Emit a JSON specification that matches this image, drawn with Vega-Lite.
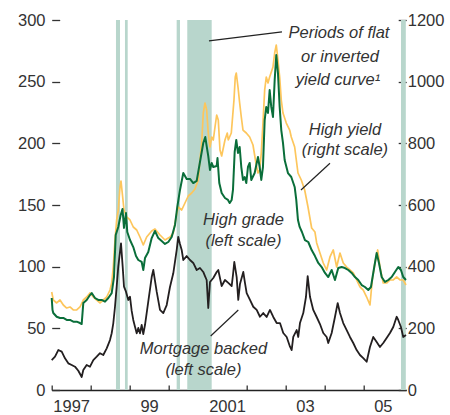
{
  "$schema": "https://vega.github.io/schema/vega-lite/v6.json",
  "width": 354.5,
  "height": 370,
  "autosize": {"type": "none"},
  "padding": {"left": 51.7, "top": 20, "right": 43.8, "bottom": 25},
  "background": "white",
  "config": {
    "view": {"stroke": null},
    "font": "Liberation Sans",
    "axis": {"grid": false, "domain": false, "labelFont": "Liberation Sans", "labelFontSize": 16.5, "labelColor": "#333333", "tickColor": "#333333", "tickWidth": 1.3, "title": null}
  },
  "datasets": {
    "shade": [
      {"t": 1998.650, "end": 1998.753},
      {"t": 1998.881, "end": 1998.951},
      {"t": 2000.208, "end": 2000.293},
      {"t": 2000.480, "end": 2001.107},
      {"t": 2005.966, "end": 2006.090}
    ],
    "mbs": [
      {"t":1997.000,"v":24.3},{"t":1997.085,"v":27.0},{"t":1997.169,"v":32.4},{"t":1997.257,"v":31.1},{"t":1997.341,"v":25.7},{"t":1997.426,"v":21.6},{"t":1997.513,"v":20.3},{"t":1997.598,"v":18.9},{"t":1997.683,"v":15.6},{"t":1997.770,"v":10.5},{"t":1997.811,"v":16.2},{"t":1997.898,"v":20.3},{"t":1997.983,"v":18.9},{"t":1998.068,"v":24.3},{"t":1998.155,"v":27.0},{"t":1998.240,"v":29.8},{"t":1998.324,"v":28.4},{"t":1998.412,"v":33.8},{"t":1998.496,"v":40.5},{"t":1998.540,"v":46.0},{"t":1998.581,"v":54.1},{"t":1998.625,"v":67.5},{"t":1998.668,"v":83.8},{"t":1998.709,"v":100.0},{"t":1998.753,"v":112.1},{"t":1998.779,"v":118.9},{"t":1998.822,"v":100.0},{"t":1998.856,"v":83.8},{"t":1998.907,"v":79.7},{"t":1998.966,"v":73.0},{"t":1999.010,"v":75.6},{"t":1999.053,"v":64.1},{"t":1999.094,"v":56.8},{"t":1999.138,"v":51.3},{"t":1999.182,"v":46.0},{"t":1999.223,"v":50.3},{"t":1999.266,"v":46.0},{"t":1999.310,"v":52.7},{"t":1999.351,"v":45.4},{"t":1999.395,"v":52.7},{"t":1999.479,"v":71.6},{"t":1999.567,"v":91.6},{"t":1999.608,"v":97.3},{"t":1999.695,"v":79.7},{"t":1999.780,"v":64.9},{"t":1999.864,"v":62.4},{"t":1999.952,"v":68.9},{"t":2000.036,"v":83.5},{"t":2000.121,"v":94.6},{"t":2000.208,"v":113.5},{"t":2000.249,"v":124.1},{"t":2000.293,"v":118.4},{"t":2000.337,"v":113.5},{"t":2000.378,"v":105.4},{"t":2000.465,"v":108.6},{"t":2000.550,"v":105.4},{"t":2000.634,"v":103.0},{"t":2000.722,"v":97.3},{"t":2000.806,"v":98.9},{"t":2000.891,"v":95.7},{"t":2000.935,"v":92.4},{"t":2000.978,"v":89.2},{"t":2001.019,"v":66.5},{"t":2001.063,"v":87.6},{"t":2001.148,"v":90.8},{"t":2001.235,"v":95.7},{"t":2001.276,"v":97.3},{"t":2001.363,"v":84.3},{"t":2001.448,"v":89.2},{"t":2001.533,"v":86.8},{"t":2001.620,"v":84.3},{"t":2001.653,"v":93.2},{"t":2001.687,"v":103.8},{"t":2001.748,"v":91.6},{"t":2001.789,"v":73.0},{"t":2001.833,"v":85.9},{"t":2001.918,"v":95.7},{"t":2001.961,"v":86.8},{"t":2002.005,"v":78.6},{"t":2002.090,"v":73.0},{"t":2002.174,"v":67.5},{"t":2002.262,"v":64.9},{"t":2002.346,"v":59.4},{"t":2002.431,"v":62.4},{"t":2002.518,"v":59.2},{"t":2002.603,"v":64.9},{"t":2002.688,"v":59.2},{"t":2002.775,"v":54.3},{"t":2002.860,"v":54.3},{"t":2002.944,"v":46.2},{"t":2003.032,"v":43.0},{"t":2003.117,"v":35.1},{"t":2003.160,"v":32.4},{"t":2003.201,"v":43.0},{"t":2003.288,"v":48.6},{"t":2003.329,"v":43.0},{"t":2003.373,"v":54.3},{"t":2003.458,"v":62.4},{"t":2003.527,"v":75.4},{"t":2003.571,"v":92.4},{"t":2003.630,"v":75.6},{"t":2003.714,"v":64.9},{"t":2003.802,"v":59.2},{"t":2003.886,"v":53.5},{"t":2003.971,"v":46.2},{"t":2004.058,"v":43.0},{"t":2004.099,"v":38.1},{"t":2004.187,"v":46.2},{"t":2004.271,"v":59.2},{"t":2004.341,"v":70.5},{"t":2004.400,"v":62.4},{"t":2004.484,"v":54.3},{"t":2004.572,"v":48.6},{"t":2004.656,"v":43.0},{"t":2004.741,"v":38.1},{"t":2004.828,"v":32.4},{"t":2004.913,"v":28.4},{"t":2004.998,"v":25.9},{"t":2005.085,"v":22.9},{"t":2005.170,"v":34.9},{"t":2005.254,"v":43.0},{"t":2005.342,"v":38.9},{"t":2005.426,"v":34.9},{"t":2005.511,"v":38.1},{"t":2005.598,"v":42.2},{"t":2005.683,"v":46.2},{"t":2005.768,"v":51.1},{"t":2005.855,"v":59.4},{"t":2005.896,"v":56.8},{"t":2005.965,"v":51.1},{"t":2006.024,"v":43.0},{"t":2006.094,"v":44.6}
    ],
    "hg": [
      {"t":1997.000,"v":74.6},{"t":1997.021,"v":64.9},{"t":1997.041,"v":62.4},{"t":1997.128,"v":59.4},{"t":1997.213,"v":58.4},{"t":1997.298,"v":58.4},{"t":1997.385,"v":56.8},{"t":1997.470,"v":56.8},{"t":1997.554,"v":55.4},{"t":1997.642,"v":55.4},{"t":1997.726,"v":54.3},{"t":1997.770,"v":53.5},{"t":1997.811,"v":70.5},{"t":1997.898,"v":73.0},{"t":1997.983,"v":77.0},{"t":1998.027,"v":78.6},{"t":1998.111,"v":74.6},{"t":1998.196,"v":73.0},{"t":1998.283,"v":73.0},{"t":1998.368,"v":71.6},{"t":1998.453,"v":74.6},{"t":1998.540,"v":78.6},{"t":1998.599,"v":91.6},{"t":1998.643,"v":125.7},{"t":1998.709,"v":132.2},{"t":1998.771,"v":141.9},{"t":1998.817,"v":146.8},{"t":1998.856,"v":131.4},{"t":1998.907,"v":143.5},{"t":1998.940,"v":128.1},{"t":1999.010,"v":121.6},{"t":1999.094,"v":115.9},{"t":1999.164,"v":108.6},{"t":1999.223,"v":105.4},{"t":1999.310,"v":103.8},{"t":1999.351,"v":97.3},{"t":1999.395,"v":107.0},{"t":1999.479,"v":111.9},{"t":1999.567,"v":123.2},{"t":1999.651,"v":128.9},{"t":1999.736,"v":123.2},{"t":1999.823,"v":120.8},{"t":1999.908,"v":118.4},{"t":1999.993,"v":120.0},{"t":2000.080,"v":124.1},{"t":2000.165,"v":133.8},{"t":2000.224,"v":148.4},{"t":2000.293,"v":162.2},{"t":2000.378,"v":175.9},{"t":2000.465,"v":171.1},{"t":2000.550,"v":171.1},{"t":2000.634,"v":167.8},{"t":2000.722,"v":169.5},{"t":2000.806,"v":184.9},{"t":2000.891,"v":200.3},{"t":2000.943,"v":205.1},{"t":2000.978,"v":197.8},{"t":2001.019,"v":189.7},{"t":2001.063,"v":178.4},{"t":2001.107,"v":184.1},{"t":2001.148,"v":180.8},{"t":2001.235,"v":181.6},{"t":2001.256,"v":188.1},{"t":2001.302,"v":167.8},{"t":2001.363,"v":159.7},{"t":2001.448,"v":155.7},{"t":2001.525,"v":154.1},{"t":2001.569,"v":151.6},{"t":2001.620,"v":154.1},{"t":2001.653,"v":162.2},{"t":2001.697,"v":193.0},{"t":2001.738,"v":202.7},{"t":2001.782,"v":192.2},{"t":2001.825,"v":197.0},{"t":2001.867,"v":180.8},{"t":2001.910,"v":170.3},{"t":2001.954,"v":172.7},{"t":2001.995,"v":167.8},{"t":2002.038,"v":180.8},{"t":2002.082,"v":184.1},{"t":2002.123,"v":170.3},{"t":2002.210,"v":175.9},{"t":2002.295,"v":188.9},{"t":2002.339,"v":180.8},{"t":2002.380,"v":170.3},{"t":2002.423,"v":180.8},{"t":2002.467,"v":218.9},{"t":2002.508,"v":229.5},{"t":2002.552,"v":224.6},{"t":2002.595,"v":243.2},{"t":2002.636,"v":229.5},{"t":2002.680,"v":221.4},{"t":2002.724,"v":251.4},{"t":2002.765,"v":271.6},{"t":2002.808,"v":257.0},{"t":2002.852,"v":229.5},{"t":2002.893,"v":210.8},{"t":2002.937,"v":200.3},{"t":2002.980,"v":186.5},{"t":2003.065,"v":175.9},{"t":2003.150,"v":172.7},{"t":2003.237,"v":164.6},{"t":2003.278,"v":154.1},{"t":2003.322,"v":137.8},{"t":2003.365,"v":132.2},{"t":2003.424,"v":128.1},{"t":2003.501,"v":121.6},{"t":2003.586,"v":120.0},{"t":2003.673,"v":113.5},{"t":2003.758,"v":108.6},{"t":2003.843,"v":103.0},{"t":2003.930,"v":99.7},{"t":2004.015,"v":94.9},{"t":2004.099,"v":91.6},{"t":2004.187,"v":97.3},{"t":2004.271,"v":89.2},{"t":2004.356,"v":98.9},{"t":2004.443,"v":99.7},{"t":2004.528,"v":98.9},{"t":2004.613,"v":97.3},{"t":2004.700,"v":94.9},{"t":2004.785,"v":91.6},{"t":2004.869,"v":89.2},{"t":2004.957,"v":85.1},{"t":2005.041,"v":83.5},{"t":2005.126,"v":81.1},{"t":2005.195,"v":83.5},{"t":2005.280,"v":99.7},{"t":2005.342,"v":111.1},{"t":2005.401,"v":103.0},{"t":2005.470,"v":91.6},{"t":2005.555,"v":87.6},{"t":2005.640,"v":89.2},{"t":2005.727,"v":91.6},{"t":2005.811,"v":95.7},{"t":2005.896,"v":99.7},{"t":2005.965,"v":97.3},{"t":2006.024,"v":91.6},{"t":2006.094,"v":89.2}
    ],
    "hy": [
      {"t":1997.000,"v":317.8},{"t":1997.041,"v":291.9},{"t":1997.128,"v":282.2},{"t":1997.213,"v":291.9},{"t":1997.298,"v":275.7},{"t":1997.385,"v":265.9},{"t":1997.470,"v":269.2},{"t":1997.554,"v":259.5},{"t":1997.642,"v":259.5},{"t":1997.726,"v":269.2},{"t":1997.811,"v":291.9},{"t":1997.898,"v":301.6},{"t":1997.983,"v":314.6},{"t":1998.068,"v":301.6},{"t":1998.155,"v":291.9},{"t":1998.240,"v":282.2},{"t":1998.324,"v":291.9},{"t":1998.412,"v":301.6},{"t":1998.496,"v":324.3},{"t":1998.540,"v":347.0},{"t":1998.581,"v":398.9},{"t":1998.625,"v":486.5},{"t":1998.668,"v":551.4},{"t":1998.709,"v":583.8},{"t":1998.753,"v":658.4},{"t":1998.779,"v":677.8},{"t":1998.822,"v":625.9},{"t":1998.856,"v":583.8},{"t":1998.925,"v":561.1},{"t":1999.010,"v":551.4},{"t":1999.094,"v":528.6},{"t":1999.182,"v":518.9},{"t":1999.266,"v":496.2},{"t":1999.351,"v":470.3},{"t":1999.438,"v":496.2},{"t":1999.567,"v":515.7},{"t":1999.651,"v":522.2},{"t":1999.780,"v":502.7},{"t":1999.908,"v":486.5},{"t":2000.036,"v":496.2},{"t":2000.121,"v":509.2},{"t":2000.208,"v":570.8},{"t":2000.249,"v":593.5},{"t":2000.337,"v":583.8},{"t":2000.421,"v":606.5},{"t":2000.506,"v":629.2},{"t":2000.593,"v":638.9},{"t":2000.678,"v":651.9},{"t":2000.763,"v":681.1},{"t":2000.806,"v":745.9},{"t":2000.850,"v":801.1},{"t":2000.891,"v":898.4},{"t":2000.935,"v":930.8},{"t":2000.978,"v":908.1},{"t":2001.019,"v":833.5},{"t":2001.063,"v":788.1},{"t":2001.107,"v":820.5},{"t":2001.148,"v":810.8},{"t":2001.192,"v":853.0},{"t":2001.235,"v":891.9},{"t":2001.276,"v":875.7},{"t":2001.320,"v":778.4},{"t":2001.363,"v":758.9},{"t":2001.448,"v":810.8},{"t":2001.507,"v":833.5},{"t":2001.533,"v":810.8},{"t":2001.610,"v":833.5},{"t":2001.679,"v":940.5},{"t":2001.712,"v":1015.1},{"t":2001.738,"v":1028.1},{"t":2001.782,"v":982.7},{"t":2001.825,"v":930.8},{"t":2001.867,"v":885.4},{"t":2001.910,"v":843.2},{"t":2001.995,"v":833.5},{"t":2002.082,"v":820.5},{"t":2002.167,"v":794.6},{"t":2002.251,"v":729.7},{"t":2002.295,"v":703.8},{"t":2002.339,"v":713.5},{"t":2002.380,"v":768.6},{"t":2002.423,"v":865.9},{"t":2002.467,"v":973.0},{"t":2002.508,"v":1015.1},{"t":2002.552,"v":995.7},{"t":2002.595,"v":1015.1},{"t":2002.680,"v":1047.6},{"t":2002.724,"v":1093.0},{"t":2002.765,"v":1118.9},{"t":2002.808,"v":1070.3},{"t":2002.852,"v":1015.1},{"t":2002.893,"v":940.5},{"t":2002.937,"v":898.4},{"t":2003.022,"v":865.9},{"t":2003.109,"v":843.2},{"t":2003.150,"v":820.5},{"t":2003.237,"v":788.1},{"t":2003.322,"v":703.8},{"t":2003.407,"v":681.1},{"t":2003.494,"v":648.6},{"t":2003.579,"v":593.5},{"t":2003.673,"v":525.4},{"t":2003.758,"v":512.4},{"t":2003.802,"v":476.8},{"t":2003.886,"v":444.3},{"t":2003.971,"v":411.9},{"t":2004.058,"v":389.2},{"t":2004.143,"v":431.4},{"t":2004.228,"v":454.1},{"t":2004.315,"v":398.9},{"t":2004.400,"v":444.3},{"t":2004.484,"v":411.9},{"t":2004.572,"v":398.9},{"t":2004.656,"v":389.2},{"t":2004.741,"v":379.5},{"t":2004.828,"v":356.8},{"t":2004.913,"v":334.1},{"t":2004.998,"v":324.3},{"t":2005.085,"v":301.6},{"t":2005.170,"v":275.7},{"t":2005.229,"v":356.8},{"t":2005.298,"v":411.9},{"t":2005.368,"v":454.1},{"t":2005.426,"v":398.9},{"t":2005.511,"v":347.0},{"t":2005.598,"v":347.0},{"t":2005.683,"v":356.8},{"t":2005.768,"v":356.8},{"t":2005.855,"v":366.5},{"t":2005.940,"v":356.8},{"t":2006.024,"v":356.8},{"t":2006.094,"v":340.5}
    ],
    "notes": [
      {"t": 2004.374, "v": 289.5, "label": "Periods of flat"},
      {"t": 2004.400, "v": 270.4, "label": "or inverted"},
      {"t": 2004.349, "v": 251.4, "label": "yield curve¹"},
      {"t": 2004.528, "v": 211.2, "label": "High yield"},
      {"t": 2004.528, "v": 194.2, "label": "(right scale)"},
      {"t": 2001.923, "v": 137.8, "label": "High grade"},
      {"t": 2001.923, "v": 120.8, "label": "(left scale)"},
      {"t": 2000.896, "v": 33.2, "label": "Mortgage backed"},
      {"t": 2000.896, "v": 16.2, "label": "(left scale)"}
    ],
    "leaders": [
      {"t": 2001.037, "v": 283.0, "t2": 2002.911, "v2": 290.3},
      {"t": 2004.143, "v": 183.8, "t2": 2003.399, "v2": 162.2},
      {"t": 2001.081, "v": 43.8, "t2": 2001.790, "v2": 64.9}
    ]
  },
  "encoding": {
    "x": {
      "field": "t", "type": "quantitative",
      "scale": {"domain": [1997, 2006.1], "nice": false, "zero": false},
      "axis": {
        "orient": "bottom", "title": null, "values": [1997, 1998, 1999, 2000, 2001, 2002, 2003, 2004, 2005, 2006],
        "domain": true, "domainColor": "#222222", "domainWidth": 1.5,
        "tickSize": -5, "labelPadding": 13, "labelOffset": 19.5,
        "labelFlush": false, "labelOverlap": false,
        "labelExpr": "datum.value == 1997 ? '1997' : datum.value == 1999 ? '99' : datum.value == 2001 ? '2001' : datum.value == 2003 ? '03' : datum.value == 2005 ? '05' : ''"
      }
    }
  },
  "layer": [
    {
      "data": {"name": "shade"},
      "mark": {"type": "rect", "color": "#B8D6CC"},
      "encoding": {"x2": {"field": "end"}}
    },
    {
      "data": {"name": "hy"},
      "mark": {"type": "line", "color": "#FDC65C", "strokeWidth": 1.7, "strokeJoin": "round"},
      "encoding": {
        "y": {
          "field": "v", "type": "quantitative",
          "scale": {"domain": [0, 1200], "nice": false},
          "axis": {"orient": "right", "title": null, "format": "d", "values": [0, 200, 400, 600, 800, 1000, 1200], "tickSize": -8, "labelPadding": 9}
        }
      }
    },
    {
      "encoding": {
        "y": {
          "field": "v", "type": "quantitative",
          "scale": {"domain": [0, 300], "nice": false},
          "axis": {"orient": "left", "title": null, "values": [0, 50, 100, 150, 200, 250, 300], "tickSize": -8, "labelPadding": 14.7}
        }
      },
      "layer": [
        {
          "data": {"name": "hg"},
          "mark": {"type": "line", "color": "#0A6E3A", "strokeWidth": 2, "strokeJoin": "round"}
        },
        {
          "data": {"name": "mbs"},
          "mark": {"type": "line", "color": "#231F20", "strokeWidth": 1.8, "strokeJoin": "round"}
        },
        {
          "data": {"name": "leaders"},
          "mark": {"type": "rule", "color": "#222222", "strokeWidth": 1.2},
          "encoding": {"x2": {"field": "t2"}, "y2": {"field": "v2"}}
        },
        {
          "data": {"name": "notes"},
          "mark": {"type": "text", "font": "Liberation Sans", "fontStyle": "italic", "fontSize": 16.5, "align": "center", "baseline": "middle", "color": "#333333"},
          "encoding": {"text": {"field": "label"}}
        }
      ]
    }
  ],
  "resolve": {"scale": {"y": "independent"}}
}
